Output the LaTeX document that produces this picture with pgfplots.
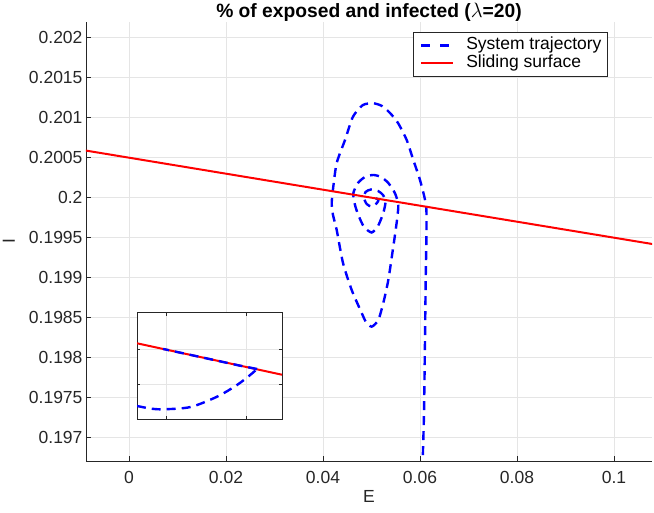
\documentclass[border=0pt]{standalone}
\usepackage{fontspec}
\setmainfont{Liberation Sans}
\usepackage{pgfplots}
\pgfplotsset{compat=1.18}
\definecolor{axgray}{rgb}{0.15,0.15,0.15}
\definecolor{gridgray}{rgb}{0.9,0.9,0.9}
\begin{document}
\begin{tikzpicture}
\path[use as bounding box] (-86pt,-52pt) rectangle (568pt,461pt);
\begin{axis}[
  at={(0pt,0pt)}, anchor=south west, scale only axis,
  width=566pt, height=439pt,
  xmin=-0.008866, xmax=0.107835, ymin=0.196709, ymax=0.202196,
  axis x line*=bottom, axis y line*=left,
  axis line style={-, draw=axgray, line width=0.8pt},
  xtick={0,0.02,0.04,0.06,0.08,0.1},
  ytick={0.197,0.1975,0.198,0.1985,0.199,0.1995,0.2,0.2005,0.201,0.2015,0.202},
  scaled x ticks=false, scaled y ticks=false,
  xticklabel style={/pgf/number format/fixed, /pgf/number format/precision=2, /pgf/number format/assume math mode=true},
  yticklabel style={/pgf/number format/fixed, /pgf/number format/precision=4, /pgf/number format/assume math mode=true},
  grid=major, grid style={gridgray, line width=0.8pt},
  tick align=inside, major tick length=5pt, tick style={axgray, line width=0.8pt},
  tick label style={font=\fontsize{17.5}{21}\selectfont, text=axgray},
  every x tick label/.append style={anchor=base, yshift=-23pt},
  every axis title shift=0pt,
  title={\% of exposed and infected ($\lambda$=20)},
  title style={font=\bfseries\fontsize{19.25}{23}\selectfont, at={(rel axis cs:0.5,1.00911)}, anchor=base, yshift=0pt},
  xlabel={E}, xlabel style={font=\fontsize{17.5}{21}\selectfont, text=axgray, at={(rel axis cs:0.5,-0.09567)}, anchor=base},
  ylabel={I}, ylabel style={font=\fontsize{17.5}{21}\selectfont, text=axgray, at={(rel axis cs:-0.12544,0.5)}, anchor=base},
  legend style={at={(0.922,0.977)}, anchor=north east, draw=axgray, line width=0.8pt, fill=white,
    font=\fontsize{17.5}{19}\selectfont, inner xsep=6pt, inner ysep=4pt, row sep=0pt,
    nodes={inner xsep=0pt, inner ysep=0.5pt, text height=13pt, text depth=4pt}},
  legend cell align=left,
  legend image code/.code={\draw[#1] (0pt,0pt) -- (32pt,0pt); \path (0pt,-1pt) (44pt,1pt);},
]
\addplot[blue, line width=2.4pt, dash pattern=on 9pt off 6pt, smooth, tension=0.4,
  legend image post style={dash pattern=on 9pt off 10pt}] coordinates {
(0.060515,0.196596) (0.060619,0.196846) (0.060825,0.197309) (0.061031,0.198221)
(0.061175,0.198971) (0.061340,0.199596) (0.061237,0.199909) (0.060000,0.200221)
(0.058619,0.200471) (0.057258,0.200721) (0.055464,0.200934) (0.053814,0.201059)
(0.052165,0.201146) (0.050371,0.201180) (0.048247,0.201159) (0.046186,0.201013)
(0.044536,0.200721) (0.042825,0.200434) (0.042124,0.200138) (0.041794,0.199934)
(0.042062,0.199784) (0.042825,0.199596) (0.044124,0.199184) (0.045918,0.198846)
(0.047979,0.198559) (0.048866,0.198446) (0.050041,0.198388) (0.051402,0.198471)
(0.052433,0.198684) (0.053464,0.198971) (0.054495,0.199388) (0.055258,0.199721)
(0.055526,0.199909) (0.054845,0.200055) (0.053464,0.200184) (0.051959,0.200259)
(0.050371,0.200284) (0.048660,0.200259) (0.047216,0.200184) (0.046247,0.200055)
(0.046598,0.199909) (0.047278,0.199784) (0.048454,0.199634) (0.050041,0.199565)
(0.051340,0.199646) (0.052433,0.199809) (0.052887,0.199946) (0.052371,0.200034)
(0.051340,0.200084) (0.049897,0.200103) (0.048763,0.200071) (0.048454,0.199996)
(0.049010,0.199921) (0.050041,0.199888) (0.051134,0.199934) (0.051443,0.199977)
(0.050722,0.199993) (0.050000,0.200000)
};
\addlegendentry{System trajectory}
\addplot[red, line width=2pt] coordinates {(-0.009,0.20059) (0.108,0.19942)};
\addlegendentry{Sliding surface}
\end{axis}
\begin{axis}[
  at={(51pt,41.7pt)}, anchor=south west, scale only axis,
  width=145pt, height=106.6pt,
  xmin=0, xmax=1, ymin=0, ymax=1,
  axis background/.style={fill=white},
  axis line style={draw=axgray, line width=0.8pt},
  xtick={0.2,0.752}, ytick={0.331,0.657},
  xticklabels={}, yticklabels={},
  grid=major, grid style={gridgray, line width=0.8pt},
  tick align=inside, major tick length=3pt, tick style={axgray, line width=0.8pt},
]
\addplot[red, line width=2pt] coordinates {(0,0.713) (1,0.418)};
\addplot[blue, line width=2.4pt, dash pattern=on 9pt off 6pt, smooth, tension=0.5] coordinates {
(0,0.125) (0.092,0.101) (0.181,0.094) (0.368,0.115) (0.552,0.212) (0.69,0.322)
(0.78,0.415) (0.828,0.472)};
\addplot[blue, line width=2.4pt, dash pattern=on 9pt off 6pt] coordinates {
(0.828,0.472) (0.7,0.506) (0.5,0.5655) (0.3,0.6245) (0.18,0.660)};
\end{axis}
\end{tikzpicture}
\end{document}
